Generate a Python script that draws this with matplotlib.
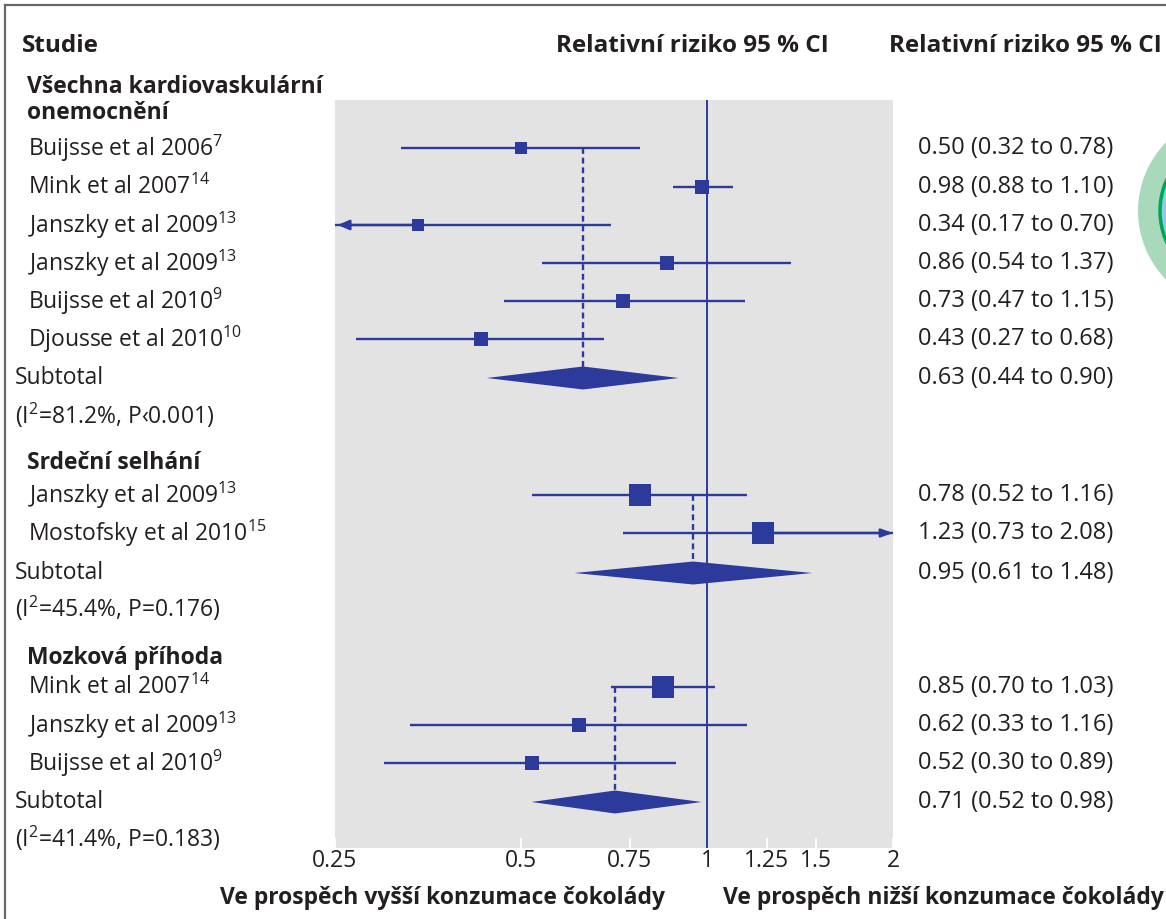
import numpy as np
import matplotlib.pyplot as plt
from matplotlib.patches import Polygon, Circle
from matplotlib.ticker import NullLocator

plt.rcParams['font.family'] = ['Open Sans', 'DejaVu Sans']
plt.rcParams['mathtext.fontset'] = 'custom'
plt.rcParams['mathtext.rm'] = 'Open Sans'
plt.rcParams['mathtext.it'] = 'Open Sans'

# --- data ---
study_names = ["Buijsse et al 2006", "Mink et al 2007", "Janszky et al 2009",
               "Janszky et al 2009", "Buijsse et al 2010", "Djousse et al 2010",
               "Janszky et al 2009", "Mostofsky et al 2010",
               "Mink et al 2007", "Janszky et al 2009", "Buijsse et al 2010"]
study_refs = ["7", "14", "13", "13", "9", "10", "13", "15", "14", "13", "9"]
study_group = [0, 0, 0, 0, 0, 0, 1, 1, 2, 2, 2]
rr = [0.50, 0.98, 0.34, 0.86, 0.73, 0.43, 0.78, 1.23, 0.85, 0.62, 0.52]
rr_lo = [0.32, 0.88, 0.17, 0.54, 0.47, 0.27, 0.52, 0.73, 0.70, 0.33, 0.30]
rr_hi = [0.78, 1.10, 0.70, 1.37, 1.15, 0.68, 1.16, 2.08, 1.03, 1.16, 0.89]
weights = [13, 15, 13, 14, 15, 14, 23, 22, 23, 14, 15]

group_names = ["Všechna kardiovaskulární\nonemocnění", "Srdeční selhání", "Mozková příhoda"]
sub_rr = [0.63, 0.95, 0.71]
sub_lo = [0.44, 0.61, 0.52]
sub_hi = [0.90, 1.48, 0.98]
heterog = ["(I$^2$=81.2%, P‹0.001)", "(I$^2$=45.4%, P=0.176)", "(I$^2$=41.4%, P=0.183)"]

xticks = [0.25, 0.5, 0.75, 1, 1.25, 1.5, 2]
xtick_labels = ["0.25", "0.5", "0.75", "1", "1.25", "1.5", "2"]

# --- layout (pixel rows) ---
W, H = 1166, 919
study_y = [148, 187, 225, 263, 301, 339, 495, 533, 687, 725, 763]
group_y = [100, 463, 658]
sub_y = [378, 573, 802]
het_y = [415, 608, 838]
XMIN, XMAX = 0.25, 2.0

blue = "#2c3a9c"
ink = "#231f20"
fs = 16.5
fs_r = 17
fs_b = 17.5

fig = plt.figure(figsize=(W / 100, H / 100), dpi=100)
bg = fig.add_axes([0, 0, 1, 1], zorder=0)
bg.set_xlim(0, W)
bg.set_ylim(H, 0)
bg.axis("off")

# frame and the cut-off logo on the right
bg.plot([5, 5], [H, 5], color="#666666", lw=1.6)
bg.plot([5, W], [5, 5], color="#666666", lw=1.6)
bg.add_patch(Circle((1236, 211), 98, color="#a9d9bb", lw=0))
bg.add_patch(Circle((1236, 211), 76, facecolor="#86cfe3", edgecolor="#00a651", lw=2.5))

# headers
bg.text(22, 46, "Studie", fontsize=fs_b, fontweight="bold", color=ink, va="center")
bg.text(829, 46, "Relativní riziko 95 % CI", fontsize=fs_b, fontweight="bold",
        color=ink, va="center", ha="right")
bg.text(1162, 46, "Relativní riziko 95 % CI", fontsize=fs_b, fontweight="bold",
        color=ink, va="center", ha="right")

for name, y in zip(group_names, group_y):
    bg.text(27, y, name, fontsize=fs, fontweight="bold", color=ink,
            va="center", linespacing=1.15)

for name, ref, y, r, l, h in zip(study_names, study_refs, study_y, rr, rr_lo, rr_hi):
    bg.text(28, y, name + "$^{" + ref + "}$", fontsize=fs, color=ink, va="center")
    bg.text(918, y, f"{r:.2f} ({l:.2f} to {h:.2f})", fontsize=fs_r, color=ink, va="center")

for y, yh, txt, r, l, h in zip(sub_y, het_y, heterog, sub_rr, sub_lo, sub_hi):
    bg.text(15, y, "Subtotal", fontsize=fs, color=ink, va="center")
    bg.text(15, yh, txt, fontsize=fs, color=ink, va="center")
    bg.text(918, y, f"{r:.2f} ({l:.2f} to {h:.2f})", fontsize=fs_r, color=ink, va="center")

bg.text(443, 898, "Ve prospěch vyšší konzumace čokolády", fontsize=fs,
        fontweight="bold", color=ink, va="center", ha="center")
bg.text(1164, 898, "Ve prospěch nižší konzumace čokolády", fontsize=fs,
        fontweight="bold", color=ink, va="center", ha="right")

# --- forest panel ---
px_l, px_r, px_t, px_b = 335, 893, 100, 848
ax = fig.add_axes([px_l / W, 1 - px_b / H, (px_r - px_l) / W, (px_b - px_t) / H], zorder=1)
ax.set_facecolor("#e3e3e3")
ax.set_xscale("log")
ax.set_xlim(XMIN, XMAX)
ax.set_ylim(px_b, px_t)
for s in ax.spines.values():
    s.set_visible(False)
ax.xaxis.set_minor_locator(NullLocator())
ax.set_xticks(xticks, xtick_labels)
ax.set_yticks([])
ax.tick_params(axis="x", direction="in", length=7, width=1.3, color="white",
               labelsize=fs, labelcolor=ink, pad=1)

ax.axvline(1, color=blue, lw=1.4, zorder=2)

for y, r, l, h, w in zip(study_y, rr, rr_lo, rr_hi, weights):
    left, right = max(l, XMIN), min(h, XMAX)
    ax.plot([left, right], [y, y], color=blue, lw=1.7, zorder=3, solid_capstyle="butt")
    if l < XMIN:
        ax.annotate("", xy=(XMIN * 1.01, y), xytext=(r, y), annotation_clip=False,
                    arrowprops=dict(arrowstyle="-|>,head_length=0.7,head_width=0.3",
                                    color=blue, lw=1.7, shrinkA=0, shrinkB=0))
    if h > XMAX:
        ax.annotate("", xy=(XMAX, y), xytext=(r, y), annotation_clip=False,
                    arrowprops=dict(arrowstyle="-|>,head_length=0.7,head_width=0.25",
                                    color=blue, lw=1.7, shrinkA=0, shrinkB=0))
    ax.plot(r, y, marker="s", ms=w / 1.389, color=blue, mec=blue, mew=0, zorder=4)

for g, (y, r, l, h) in enumerate(zip(sub_y, sub_rr, sub_lo, sub_hi)):
    first = study_y[study_group.index(g)]
    ax.plot([r, r], [first, y - 11.5], color=blue, lw=1.7, ls=(0, (2.5, 1.6)), zorder=3)
    ax.add_patch(Polygon([[l, y], [r, y - 11.5], [h, y], [r, y + 11.5]],
                         closed=True, color=blue, lw=0, zorder=4))

fig.savefig("out.png", dpi=100)
